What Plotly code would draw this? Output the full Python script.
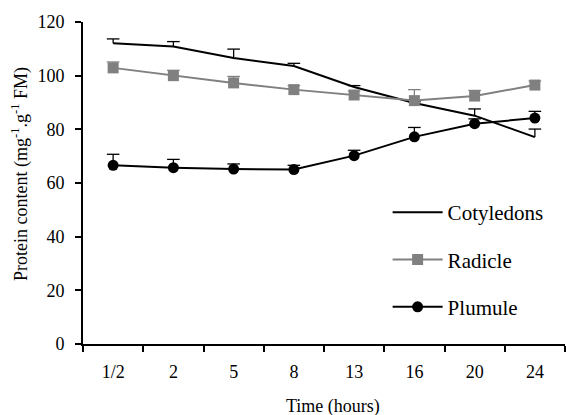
import plotly.graph_objects as go

times = ["1/2", "2", "5", "8", "13", "16", "20", "24"]
cotyledons = [112.1, 110.9, 106.6, 103.6, 95.8, 89.8, 85.1, 77.1]
cotyledons_err = [1.6, 1.8, 3.3, 1.0, 0.5, 0.5, 2.5, 3.0]
radicle = [102.9, 100.0, 97.3, 94.8, 92.8, 90.7, 92.4, 96.5]
radicle_err = [2.2, 2.0, 2.4, 1.5, 1.5, 4.1, 2.1, 1.5]
plumule = [66.6, 65.7, 65.2, 65.0, 70.2, 77.2, 82.1, 84.2]
plumule_err = [4.1, 3.1, 1.9, 1.6, 2.0, 3.5, 1.8, 2.5]

FONT = "Liberation Serif"
GRAY = "#808080"

fig = go.Figure()


def add_series(name, vals, errs, color, symbol, group):
    # plus-only error bars: vertical stem from the library's error bars, cap via line-ew marker
    fig.add_trace(go.Scatter(
        x=times, y=vals, mode="markers", showlegend=False, hoverinfo="skip",
        legendgroup=group,
        marker=dict(size=1, color="rgba(0,0,0,0)"),
        error_y=dict(type="data", array=errs, arrayminus=[0] * len(errs), symmetric=False,
                     color=color, thickness=1.3, width=0)))
    fig.add_trace(go.Scatter(
        x=times, y=[v + e for v, e in zip(vals, errs)], mode="markers", showlegend=False,
        hoverinfo="skip", legendgroup=group,
        marker=dict(symbol="line-ew", size=9, line=dict(color=color, width=1.3))))
    mode = "lines" if symbol is None else "lines+markers"
    marker = dict(symbol=symbol or "circle", size=11, color=color)
    fig.add_trace(go.Scatter(
        x=times, y=vals, name=name, mode=mode, legendgroup=group,
        line=dict(color=color, width=2), marker=marker))


add_series("Cotyledons", cotyledons, cotyledons_err, "black", None, "a")
add_series("Radicle", radicle, radicle_err, GRAY, "square", "b")
add_series("Plumule", plumule, plumule_err, "black", "circle", "c")

plot_w = 566 - 83 - 1
plot_h = 415 - 22 - 71

fig.update_layout(
    width=566, height=415,
    margin=dict(l=83, r=1, t=22, b=71),
    paper_bgcolor="white", plot_bgcolor="white",
    font=dict(family=FONT, color="black", size=18),
    showlegend=True,
    legend=dict(x=0.632, y=0.472, xanchor="left", yanchor="top",
                font=dict(family=FONT, size=21, color="black"),
                tracegroupgap=17, itemwidth=50, bgcolor="rgba(0,0,0,0)",
                traceorder="grouped"),
    xaxis=dict(type="category", range=[-0.5, 7.5], tickson="boundaries",
               ticks="outside", ticklen=6, tickwidth=2, tickcolor="black",
               showline=True, linecolor="black", linewidth=2, showgrid=False,
               zeroline=False, ticklabelstandoff=10,
               tickfont=dict(family=FONT, size=18, color="black")),
    yaxis=dict(range=[0, 120], tickvals=[0, 20, 40, 60, 80, 100, 120],
               ticks="outside", ticklen=6, tickwidth=2, tickcolor="black",
               showline=True, linecolor="black", linewidth=2, showgrid=False,
               zeroline=False, ticklabelstandoff=7,
               tickfont=dict(family=FONT, size=18, color="black")),
    annotations=[
        dict(text="Time (hours)", x=(333 - 83) / plot_w, y=(415 - 71 - 406) / plot_h,
             xref="paper", yref="paper", xanchor="center", yanchor="middle",
             showarrow=False, font=dict(family=FONT, size=18, color="black")),
        dict(text="Protein content (mg<sup>-1</sup>.g<sup>-1</sup> FM)",
             x=(20 - 83) / plot_w, y=(415 - 71 - 174) / plot_h,
             xref="paper", yref="paper", xanchor="center", yanchor="middle",
             showarrow=False, textangle=-90, font=dict(family=FONT, size=18, color="black")),
    ],
)

fig.write_html("out.html", config={"displayModeBar": False},
               post_script="document.body.style.margin='0';document.body.style.overflow='hidden';")
